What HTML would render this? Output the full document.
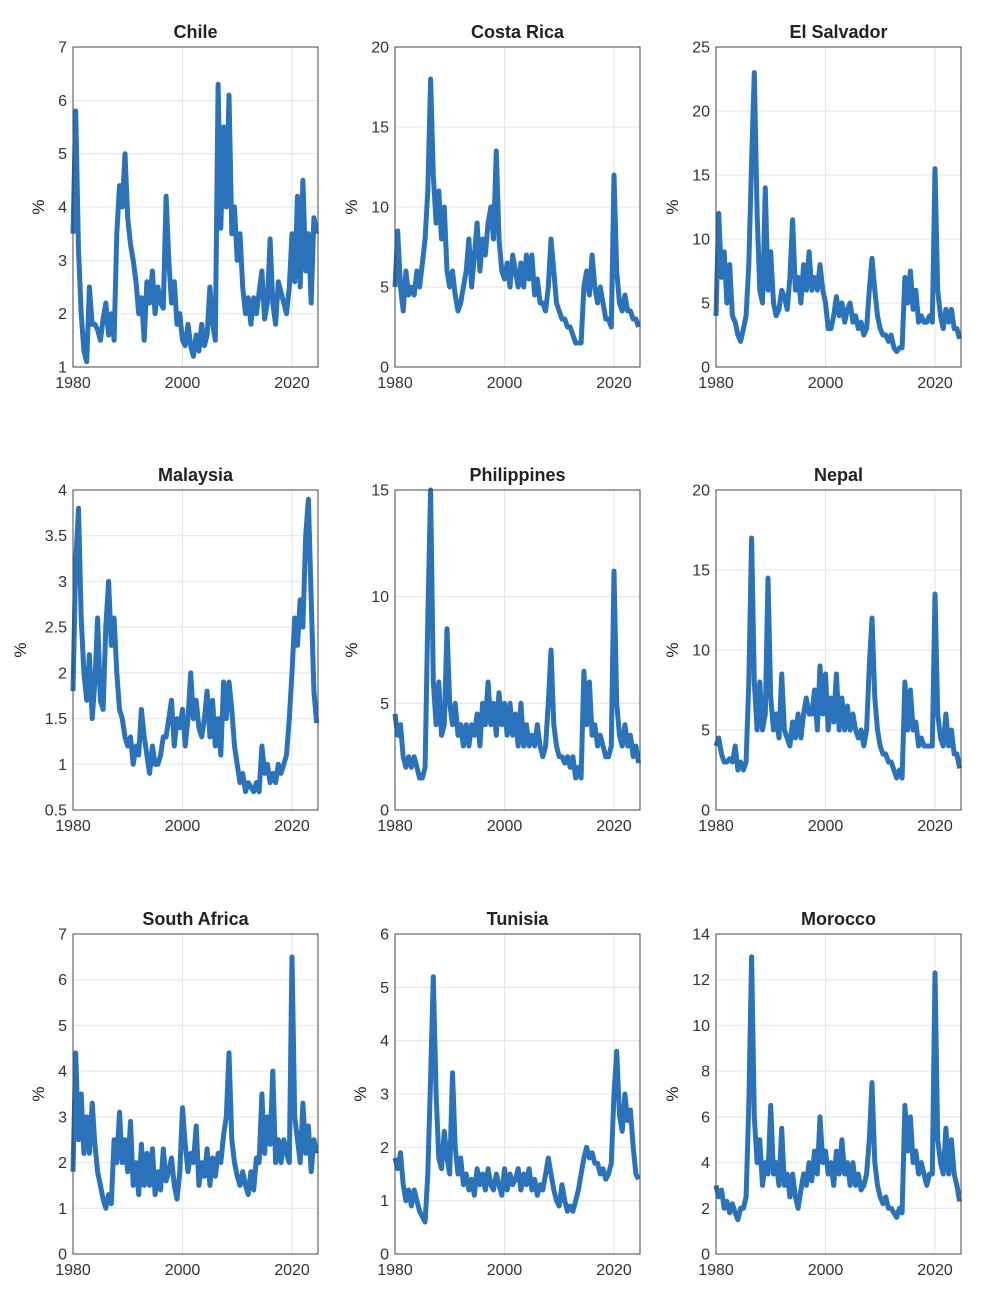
<!DOCTYPE html>
<html><head><meta charset="utf-8"><style>
html,body{margin:0;padding:0;background:#fff;}
svg{display:block;font-family:"Liberation Sans",Arial,sans-serif;}
</style></head><body>
<svg id="fig" width="1000" height="1301" viewBox="0 0 1000 1301"></svg>
<script>
const years = [];
for (let i = 0; i < 90; i++) years.push(1980 + i * 0.5);
const chile = [3.5,5.8,3.2,2.0,1.3,1.1,2.5,1.8,1.8,1.7,1.5,1.9,2.2,1.6,2.0,1.5,3.5,4.4,4.0,5.0,3.8,3.3,3.0,2.6,2.0,2.3,1.5,2.6,2.2,2.8,2.0,2.5,2.2,2.1,4.2,3.0,2.2,2.6,1.8,2.0,1.5,1.4,1.8,1.4,1.2,1.6,1.3,1.8,1.4,1.6,2.5,1.8,1.5,6.3,3.6,5.5,4.0,6.1,3.5,4.0,3.0,3.5,2.5,2.0,2.3,1.8,2.3,2.0,2.4,2.8,1.9,2.2,3.4,2.2,1.8,2.6,2.4,2.2,2.0,2.5,3.5,2.6,4.2,2.5,4.5,2.8,3.5,2.2,3.8,3.5];
const costaRica = [5,8.5,5,3.5,6,4.5,5,4.5,6,5,6.5,8,11,18,12,9,11,8,10,6,5,6,4.5,3.5,4,5,6,8,5,7,9,6,8,7,9,10,8,13.5,8,6,5.5,6.5,5,7,6,5,6.5,5,7,5.5,7,4.5,5.5,4,4,3.5,5,8,6,4,3.5,3,3,2.5,2.5,2,1.5,1.5,1.5,5,6,4.5,7,5,4,5,4,3,3,2.5,12,6,4,3.5,4.5,3.5,3.5,3,3,2.5];
const elSalvador = [4,12,7,9,5,8,4,3.5,2.5,2,3,4,8,16,23,12,6,5,14,6,9,5,4,4.5,6,5.5,4.5,7,11.5,6,7,5,8,6,9,6,7,6,8,6,5,3,3,4,5.5,4,5,3.5,4.5,5,3.5,4,3,3.5,2.5,3,6,8.5,6,4,3,2.5,2.5,2,2.5,1.5,1.2,1.5,1.5,7,5,7.5,4.5,6,3.5,4,3.5,3.5,4,3.5,15.5,6,4,3,4.5,3.5,4.5,3,3,2.2];
const malaysia = [1.8,3.2,3.8,2.6,2.0,1.7,2.2,1.5,1.9,2.6,1.7,1.6,2.5,3.0,2.3,2.6,2.0,1.6,1.5,1.3,1.2,1.3,1.0,1.2,1.1,1.6,1.3,1.1,0.9,1.2,1.0,1.0,1.1,1.3,1.3,1.5,1.7,1.2,1.5,1.4,1.6,1.2,1.5,2.0,1.5,1.7,1.4,1.3,1.5,1.8,1.3,1.7,1.2,1.5,1.1,1.9,1.5,1.9,1.6,1.2,1.0,0.8,0.9,0.7,0.8,0.75,0.7,0.8,0.7,1.2,0.9,1.0,0.8,0.9,0.8,1.0,0.9,1.0,1.1,1.5,2.0,2.6,2.3,2.8,2.5,3.5,3.9,2.8,1.8,1.45];
const philippines = [4.5,3.5,4,2.5,2,2.5,2,2.5,2,1.5,1.5,2,9,15,6,4,6,3.5,4,8.5,5,4,5,3.5,4,3,4,3,4,3.5,4.5,3,5,4,6,4,5,3.5,5.5,4,5,3.5,5,3.5,4.5,3,5,3,4,3,3.5,3,4,3,2.5,3,5,7.5,4,3,2.5,2.5,2.2,2.5,2,2.5,1.5,2,1.5,6.5,4,6,3.5,4,3,3.5,3,2.5,2.5,3,11.2,5,3.5,3,4,3,3.5,2.5,3,2.2];
const nepal = [4,4.5,3.5,3,3,3.2,3,4,2.5,3,2.5,3,8,17,8,5,8,5,6,14.5,7,5,6,4.5,8.5,5,4.5,4,5.5,4.5,6,4.5,6,7,6,6,7.5,5,9,6,8.5,5,7,5.5,8.5,5,7,5,6.5,5,6,5,4.5,5,4,5,9,12,7,5,4,3.5,3.5,3,3,2.5,2,2.5,2,8,5,7.5,5,5.5,4,4.5,4,4,4,4,13.5,6,4.5,4,6,4,5,3.5,3.5,2.6];
const southAfrica = [1.8,4.4,2.5,3.5,2.2,3,2.2,3.3,2.4,1.8,1.5,1.2,1.0,1.3,1.1,2.5,2.0,3.1,2.0,2.5,1.8,2.9,1.5,2.0,1.3,2.4,1.5,2.2,1.5,2.3,1.3,1.8,1.4,2.3,1.6,1.8,2.1,1.5,1.2,1.8,3.2,2.4,1.8,2.2,2.0,2.8,1.5,2.0,1.7,2.3,1.5,2.1,1.7,2.2,2.0,2.6,3.0,4.4,2.5,2.0,1.7,1.5,1.8,1.5,1.3,1.8,1.4,2.1,2.0,3.5,2.2,3.0,2.4,4.0,2.0,2.5,2.0,2.5,2.2,2.0,6.5,3.0,2.5,2.0,3.3,2.2,2.8,1.8,2.5,2.2];
const tunisia = [1.8,1.6,1.9,1.3,1.0,1.2,0.9,1.2,1.0,0.8,0.7,0.6,1.5,3.3,5.2,3.0,1.8,1.6,2.3,1.8,1.5,3.4,2.0,1.5,1.8,1.3,1.5,1.2,1.4,1.1,1.6,1.3,1.5,1.2,1.6,1.3,1.2,1.5,1.3,1.1,1.6,1.2,1.5,1.3,1.4,1.6,1.2,1.5,1.3,1.6,1.2,1.4,1.1,1.3,1.2,1.5,1.8,1.5,1.2,1.0,0.9,1.3,1.0,0.8,0.9,0.8,1.0,1.2,1.5,1.8,2.0,1.8,1.9,1.7,1.7,1.5,1.6,1.4,1.5,1.7,3.0,3.8,2.6,2.3,3.0,2.5,2.7,2.0,1.5,1.4];
const morocco = [3,2.5,2.8,2,2.3,1.8,2.2,1.8,1.5,2,2,2.5,6.5,13,6,4,5,3,4,3.5,6.5,3.5,4,3,5.5,3,3.5,2.5,3.5,2.5,2,2.8,3.5,3,4,3.2,4.5,3.5,6,4,4.5,3.5,4,3,4.5,3.5,5,3.5,4,3,4,3,3.5,2.8,3,3.5,5,7.5,4,3,2.5,2.2,2.5,2,2,1.8,1.6,2,1.8,6.5,4.5,6,4,4.5,3.5,4,3.5,3,3.5,3.5,12.3,5,4,3.5,5.5,3.5,5,3.5,3,2.3];

const titles = ["Chile","Costa Rica","El Salvador","Malaysia","Philippines","Nepal","South Africa","Tunisia","Morocco"];
const seriesList = [chile,costaRica,elSalvador,malaysia,philippines,nepal,southAfrica,tunisia,morocco];
const yMins = [1,0,0,0.5,0,0,0,0,0];
const yMaxs = [7,20,25,4,15,20,7,6,14];
const ySteps = [1,5,5,0.5,5,5,1,1,2];
const xTicks = [1980,2000,2020];

const NS = "http://www.w3.org/2000/svg";
const svg = document.getElementById('fig');
const colX = [73,395,716], rowY = [47,490,934], W = 245, H = 320;
const xMin = 1980, xMax = 2024.75;
function mk(tag, attrs, parent){const e=document.createElementNS(NS,tag);for(const k in attrs)e.setAttribute(k,attrs[k]);parent.appendChild(e);return e;}

seriesList.forEach((data, p) => {
  const x0 = colX[p%3], y0 = rowY[Math.floor(p/3)];
  const g = mk('g', {}, svg);
  
  
  const xs = v => x0 + (v - xMin) / (xMax - xMin) * W;
  const ys = v => y0 + H - (v - yMins[p]) / (yMaxs[p] - yMins[p]) * H;
  mk('rect', {x:x0, y:y0, width:W, height:H, fill:'#fff'}, g);
  const grid = mk('g', {stroke:'#e5e5e5','stroke-width':1}, g);
  
  
  const yt = [];
  for (let v = yMins[p]; v <= yMaxs[p] + 1e-9; v += ySteps[p]) yt.push(Math.round(v*100)/100);
  yt.forEach(v => mk('line', {x1:x0, x2:x0+W, y1:ys(v), y2:ys(v)}, grid));
  xTicks.forEach(v => mk('line', {x1:xs(v), x2:xs(v), y1:y0, y2:y0+H}, grid));
  const d = data.map((v,i) => (i?'L':'M') + xs(years[i]).toFixed(1) + ',' + ys(v).toFixed(1)).join('');
  const line = mk('path', {d:d, fill:'none', stroke:'#2a72b9', 'stroke-width':5, 'stroke-linejoin':'round'}, g);
  
  
  const box = mk('rect', {x:x0, y:y0, width:W, height:H, fill:'none', stroke:'#444', 'stroke-width':1}, g);
  
  
  let maxW = 0;
  yt.forEach(v => {
    const t = mk('text', {x:x0-6, y:ys(v)+5.5, 'text-anchor':'end', 'font-size':16, fill:'#333'}, g);
    t.textContent = String(v);
    
    
    maxW = Math.max(maxW, String(v).length);
  });
  xTicks.forEach(v => {
    const t = mk('text', {x:xs(v), y:y0+H+21, 'text-anchor':'middle', 'font-size':16, fill:'#333'}, g);
    t.textContent = String(v);
    
    
  });
  const lx = x0 - 14 - maxW * 9 - 6;
  const yl = mk('text', {x:lx, y:y0+H/2, 'text-anchor':'middle', 'font-size':17, fill:'#222', transform:'rotate(-90 '+lx+' '+(y0+H/2)+')'}, g);
  yl.textContent = '%';
  
  
  const tt = mk('text', {x:x0+W/2, y:y0-9, 'text-anchor':'middle', 'font-size':18, 'font-weight':'bold', fill:'#222'}, g);
  tt.textContent = titles[p];
  
  
});
</script>
</body></html>
